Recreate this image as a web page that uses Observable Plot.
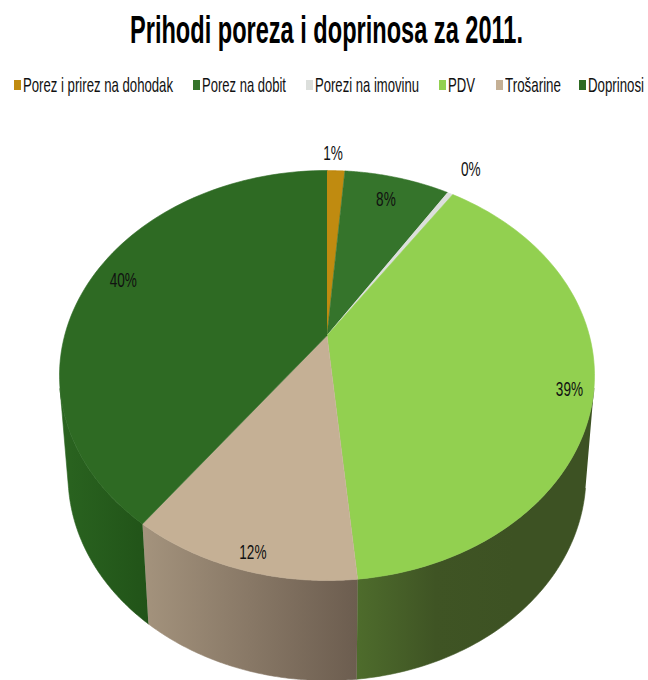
<!DOCTYPE html>
<html lang="hr">
<head>
<meta charset="utf-8">
<script src="https://cdn.jsdelivr.net/npm/d3@7"></script>
<script src="https://cdn.jsdelivr.net/npm/@observablehq/plot@0.6"></script>
<style>
  html, body { margin: 0; padding: 0; background: #fff; overflow: hidden; }
  #page { position: relative; width: 648px; height: 680px; overflow: hidden; font-family: "Liberation Sans", Arial, sans-serif; color: #000; }
  #title { position: absolute; top: 10px; left: 130px; font-size: 38px; font-weight: bold; white-space: nowrap; transform-origin: 0 0; line-height: 40px; }
  .key { position: absolute; top: 75px; font-size: 21px; line-height: 20px; white-space: nowrap; color: #111; }
  .key i { position: absolute; left: 0; top: 5px; width: 7px; height: 10px; }
  .key span { position: absolute; left: 9px; top: 0; transform-origin: 0 0; }
  #pie { position: absolute; left: 0; top: 130px; }
  #pie svg { overflow: hidden; }
</style>
</head>
<body>
<div id="page">
  <div id="title">Prihodi poreza i doprinosa za 2011.</div>
  <div id="keys"></div>
  <div id="pie"></div>
</div>
<script>
// Revenue shares, in percent of the total
const categories = ["Porez i prirez na dohodak", "Porez na dobit", "Porezi na imovinu", "PDV", "Trošarine", "Doprinosi"];
const shares = [1.3, 7.7, 0.4, 39.1, 11.6, 39.9];
const topColors = ["#c08b10", "#35742b", "#dcdfdc", "#92d050", "#c5b095", "#2e6a23"];

// Where each percentage label sits: turn around the pie (percent) and distance from the hub
const labelTurn = [0.4, 5, 9.2, 29.6, 54, 80.5];
const labelRadius = [1.125, 0.84, 1.2, 0.915, 0.935, 0.873];

// Legend layout
const keyLeft = [14, 193, 306, 439, 496, 579];
const keyWidth = [150, 84, 104, 27, 56, 56];

// Tilted-disc geometry: the hub is nearer the top edge than the bottom edge
const tilt = -0.195;
const depth = 0.488;
const floorShrink = 0.968;
const visibleFrom = 29.1; // percent turn where the wall emerges on the right
const visibleTo = 70.9;   // percent turn where it disappears on the left

const rim = (turn, r = 1) => {
  const t = turn / 100 * 2 * Math.PI;
  const u = r * Math.sin(t), v = -r * Math.cos(t), w = 1 + tilt * v;
  return {x: u * Math.sqrt(1 - tilt * tilt) / w, y: (v + tilt) / w};
};
const arc = (from, to) => d3.range(0, 81).map(i => rim(from + (to - from) * i / 80));

const ends = d3.cumsum(shares);
const starts = ends.map((e, i) => e - shares[i]);

// Top faces: hub, then the outer arc
const faces = shares.map((_, i) => [{x: 0, y: tilt}, ...arc(starts[i], ends[i])]);

// Side walls: upper arc, then the lower arc walked backwards
const walls = [];
shares.forEach((_, i) => {
  const from = Math.max(starts[i], visibleFrom), to = Math.min(ends[i], visibleTo);
  if (from >= to) return;
  const upper = arc(from, to);
  const lower = upper.map(p => ({x: p.x * floorShrink, y: p.y + depth})).reverse();
  walls.push({i, points: [...upper, ...lower]});
});

const labels = shares.map((s, i) => ({...rim(labelTurn[i], labelRadius[i]), text: `${Math.round(s)}%`}));

const polygon = (points, fill) => Plot.line(points, {x: "x", y: "y", fill, stroke: fill, strokeWidth: 0.6, curve: "linear"});

const chart = Plot.plot({
  width: 648,
  height: 550,
  margin: 0,
  x: {domain: [-1, 1], range: [59, 594], axis: null},
  y: {domain: [-1, 1], range: [40, 450], axis: null},
  marks: [
    ...walls.map(w => polygon(w.points, `url(#wall${w.i})`)),
    ...faces.map((f, i) => polygon(f, topColors[i])),
    Plot.text(labels, {x: "x", y: "y", text: "text", fontSize: 20, fill: "#111", fontFamily: "Liberation Sans, Arial, sans-serif", textAnchor: "middle"})
  ]
});

// Shading for the side walls, light to dark from left to right
const wallStops = {
  3: ["#4e6c2c", "#3f5424", "#3d5223", "#3d5223"],
  4: ["#a4937d", "#6c5d4f"],
  5: ["#2a6420", "#215318"]
};
const defs = d3.select(chart).insert("defs", ":first-child");
for (const [i, stops] of Object.entries(wallStops)) {
  const g = defs.append("linearGradient").attr("id", `wall${i}`);
  stops.forEach((c, k) => g.append("stop").attr("offset", k / (stops.length - 1)).attr("stop-color", c));
}
document.getElementById("pie").append(chart);

// The lettering is set tall and tightly condensed
d3.select(chart).selectAll("text").each(function () {
  this.setAttribute("textLength", this.getComputedTextLength() * 0.68);
  this.setAttribute("lengthAdjust", "spacingAndGlyphs");
});

const squeeze = (el, width) => { el.style.transform = `scaleX(${width / el.getBoundingClientRect().width})`; };
squeeze(document.getElementById("title"), 393);

const keys = d3.select("#keys");
categories.forEach((name, i) => {
  const key = keys.append("div").attr("class", "key").style("left", `${keyLeft[i]}px`);
  key.append("i").style("background", topColors[i]);
  const label = key.append("span").text(name);
  squeeze(label.node(), keyWidth[i]);
});
</script>
</body>
</html>
